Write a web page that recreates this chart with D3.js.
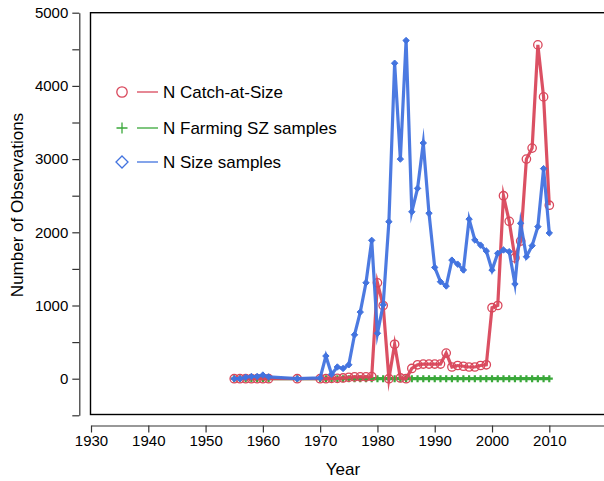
<!DOCTYPE html>
<html>
<head>
<meta charset="utf-8">
<script src="https://cdn.jsdelivr.net/npm/d3@7"></script>
<style>
  html, body { margin: 0; padding: 0; background: #fff; }
  svg { display: block; font-family: "Liberation Sans", Arial, sans-serif; }
</style>
</head>
<body>
<svg id="chart" width="604" height="481"></svg>
<script>
// ---- Data ----
const catchYears = [1955,1956,1957,1958,1959,1960,1961,1966,1970,1971,1972,1973,1974,1975,1976,1977,1978,1979,1980,1981,1982,1983,1984,1985,1986,1987,1988,1989,1990,1991,1992,1993,1994,1995,1996,1997,1998,1999,2000,2001,2002,2003,2004,2005,2006,2007,2008,2009,2010];
const catchValues = [0,0,0,0,0,0,0,0,0,0,5,5,10,20,25,25,25,30,1310,1000,0,470,10,0,140,190,200,200,200,200,350,160,180,170,160,160,180,190,970,1000,2500,2150,1650,1880,3000,3150,4560,3850,2370];

const farmYears = [1955,1956,1957,1958,1959,1960,1961,1966,1970,1971,1972,1973,1974,1975,1976,1977,1978,1979,1980,1981,1982,1983,1984,1985,1986,1987,1988,1989,1990,1991,1992,1993,1994,1995,1996,1997,1998,1999,2000,2001,2002,2003,2004,2005,2006,2007,2008,2009,2010];
const farmValues = [0,0,0,0,0,0,0,0,0,0,0,0,0,0,0,0,0,0,0,0,0,0,0,0,0,0,0,0,0,0,0,0,0,0,0,0,0,0,0,0,0,0,0,0,0,0,0,0,0];

const sizeYears = [1955,1956,1957,1958,1959,1960,1961,1966,1970,1971,1972,1973,1974,1975,1976,1977,1978,1979,1980,1981,1982,1983,1984,1985,1986,1987,1988,1989,1990,1991,1992,1993,1994,1995,1996,1997,1998,1999,2000,2001,2002,2003,2004,2005,2006,2007,2008,2009,2010];
const sizeValues = [0,0,20,30,30,50,25,0,10,310,60,160,140,190,600,910,1310,1890,620,1010,2145,4310,3000,4620,2280,2600,3220,2260,1520,1325,1266,1620,1565,1485,2180,1895,1825,1745,1485,1713,1758,1735,1294,2123,1667,1817,2077,2870,1990];

const xTicks = [1930,1940,1950,1960,1970,1980,1990,2000,2010];
const yTicks = [-500,0,500,1000,1500,2000,2500,3000,3500,4000,4500,5000];
const yLabels = [0,1000,2000,3000,4000,5000];

const legendLabels = ["N Catch-at-Size", "N Farming SZ samples", "N Size samples"];
const colors = {red: "#d9475b", green: "#3aa83a", blue: "#4273df"};

// ---- Scales ----
const svg = d3.select("#chart");
const x = d3.scaleLinear().domain([1930, 2020]).range([91, 606.6]);
const y = d3.scaleLinear().domain([-500, 5000]).range([415.3, 12.7]);

// Plot box
svg.append("rect")
  .attr("x", 90.5).attr("y", 12.7)
  .attr("width", 600).attr("height", 414.5 - 12.7)
  .attr("fill", "none").attr("stroke", "#000").attr("stroke-width", 1.4);

// X axis
const xAxis = d3.axisBottom(x).tickValues(xTicks).tickSize(7).tickSizeOuter(0).tickFormat(d3.format("d")).tickPadding(3);
const gx = svg.append("g").attr("transform", "translate(0,425.5)").call(xAxis);
gx.selectAll("path,line").attr("stroke", "#333").attr("stroke-width", 1.2);
gx.selectAll("text").attr("font-size", 15).attr("fill", "#000").attr("font-family", "Liberation Sans, Arial, sans-serif");

// Y axis
const yAxis = d3.axisLeft(y).tickValues(yTicks).tickSize(7).tickSizeOuter(0)
  .tickFormat(d => yLabels.includes(d) ? String(d) : "").tickPadding(4);
const gy = svg.append("g").attr("transform", "translate(79.3,0)").call(yAxis);
gy.selectAll("path,line").attr("stroke", "#333").attr("stroke-width", 1.2);
gy.selectAll("text").attr("font-size", 15).attr("fill", "#000").attr("font-family", "Liberation Sans, Arial, sans-serif");

// Axis titles
svg.append("text").attr("x", 343).attr("y", 475).attr("text-anchor", "middle")
  .attr("font-size", 17).text("Year");
svg.append("text").attr("transform", "translate(23,205) rotate(-90)").attr("text-anchor", "middle")
  .attr("font-size", 17).text("Number of Observations");

// Series
const plot = svg.append("g");
const line = d3.line().x(d => x(d[0])).y(d => y(d[1]));

function series(years, values) { return years.map((yr, i) => [yr, values[i]]); }
const catchData = series(catchYears, catchValues);
const farmData = series(farmYears, farmValues);
const sizeData = series(sizeYears, sizeValues);

function drawLine(data, color) {
  plot.append("path").datum(data).attr("d", line)
    .attr("fill", "none").attr("stroke", color).attr("stroke-width", 3.2)
    .attr("stroke-linejoin", "miter").attr("stroke-miterlimit", 10).attr("stroke-opacity", 0.95);
}

// Green (farming)
drawLine(farmData, colors.green);
plot.selectAll(".plus").data(farmData).enter().append("path")
  .attr("d", d => { const cx = x(d[0]), cy = y(d[1]); return `M${cx-3.5},${cy}H${cx+3.5}M${cx},${cy-3.5}V${cy+3.5}`; })
  .attr("stroke", colors.green).attr("stroke-width", 2.2).attr("fill", "none");

// Red (catch-at-size)
drawLine(catchData, colors.red);
plot.selectAll(".circ").data(catchData).enter().append("circle")
  .attr("cx", d => x(d[0])).attr("cy", d => y(d[1])).attr("r", 4.2)
  .attr("fill", "none").attr("stroke", colors.red).attr("stroke-width", 1.3);

// Blue (size samples)
drawLine(sizeData, colors.blue);
plot.selectAll(".dia").data(sizeData).enter().append("path")
  .attr("d", d => { const cx = x(d[0]), cy = y(d[1]); return `M${cx},${cy-3.2}L${cx+3.2},${cy}L${cx},${cy+3.2}L${cx-3.2},${cy}Z`; })
  .attr("fill", colors.blue).attr("stroke", colors.blue).attr("stroke-width", 1);

// Legend
const legendY = [92, 128, 162];
const lg = svg.append("g");
const lcol = [colors.red, colors.green, colors.blue];
legendLabels.forEach((lab, i) => {
  const ly = legendY[i];
  if (i === 0) {
    lg.append("circle").attr("cx", 122).attr("cy", ly).attr("r", 5.2)
      .attr("fill", "none").attr("stroke", lcol[i]).attr("stroke-width", 1.3);
  } else if (i === 1) {
    lg.append("path").attr("d", `M116.5,${ly}H127.5M122,${ly-5.5}V${ly+5.5}`)
      .attr("stroke", lcol[i]).attr("stroke-width", 1.3);
  } else {
    lg.append("path").attr("d", `M122,${ly-6}L128,${ly}L122,${ly+6}L116,${ly}Z`)
      .attr("fill", "none").attr("stroke", lcol[i]).attr("stroke-width", 1.3);
  }
  lg.append("line").attr("x1", 137).attr("x2", 158).attr("y1", ly).attr("y2", ly)
    .attr("stroke", lcol[i]).attr("stroke-width", 1.3);
  lg.append("text").attr("x", 163).attr("y", ly + 6).attr("font-size", 17).attr("fill", "#000").text(lab);
});
</script>
</body>
</html>
